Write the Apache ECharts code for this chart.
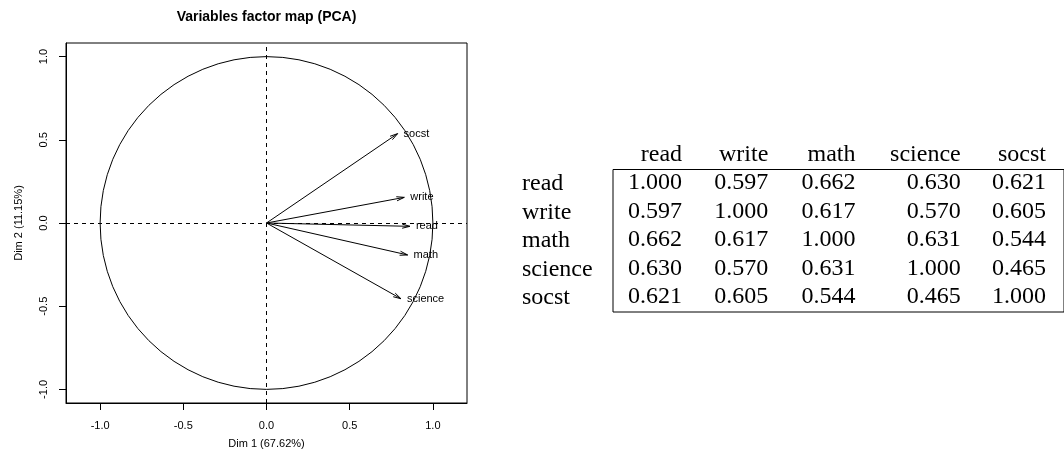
<!DOCTYPE html>
<html><head><meta charset="utf-8">
<script src="https://cdn.jsdelivr.net/npm/echarts@6/dist/echarts.min.js"></script>
<style>html,body{margin:0;padding:0;background:#fff}#c{width:1064px;height:462px}</style>
</head><body><div id="c"></div>
<script>
// ---- data ----
const variables = ['read', 'write', 'math', 'science', 'socst'];
const dim1 = [0.862, 0.828, 0.848, 0.808, 0.788];
const dim2 = [-0.020, 0.154, -0.192, -0.455, 0.537];
const xTicks = [-1.0, -0.5, 0.0, 0.5, 1.0];
const yTicks = [-1.0, -0.5, 0.0, 0.5, 1.0];
const circleCenter = [0, 0];
const circleRadius = 1;
const corRows = ['read', 'write', 'math', 'science', 'socst'];
const corCols = ['read', 'write', 'math', 'science', 'socst'];
const corRead = [1.000, 0.597, 0.662, 0.630, 0.621];
const corWrite = [0.597, 1.000, 0.617, 0.570, 0.605];
const corMath = [0.662, 0.617, 1.000, 0.631, 0.544];
const corScience = [0.630, 0.570, 0.631, 1.000, 0.465];
const corSocst = [0.621, 0.605, 0.544, 0.465, 1.000];

// ---- layout / style ----
const SANS = '"Liberation Sans", Arial, Helvetica, sans-serif';
const SERIF = '"Liberation Serif", "Times New Roman", serif';
const colShift = [24, 20, 17, 32, 27];
const rowShift = -1;

const corMatrix = [corRead, corWrite, corMath, corScience, corSocst];
const cellData = [];
corMatrix.forEach((row, r) => row.forEach((v, c) => cellData.push([c, r, v])));
const arrowData = variables.map((n, i) => [dim1[i], dim2[i], i]);

const chart = echarts.init(document.getElementById('c'));
chart.setOption({
  animation: false,
  backgroundColor: '#fff',
  title: {
    text: 'Variables factor map (PCA)', left: 266.5, top: 10, textAlign: 'center', padding: 0,
    textStyle: { fontFamily: SANS, fontSize: 14, fontWeight: 'bold', color: '#000' }
  },
  grid: [
    { left: 66, top: 43, width: 401, height: 360, show: true, borderColor: '#000', borderWidth: 1, containLabel: false },
    { left: 613, top: 169.5, right: -4, height: 142.5, show: true, borderColor: '#000', borderWidth: 1, containLabel: false }
  ],
  xAxis: [
    {
      type: 'value', gridIndex: 0, min: -1.205, max: 1.205,
      axisLine: { show: true, onZero: false, lineStyle: { color: '#000' } },
      axisTick: { show: true, customValues: xTicks, length: 7, lineStyle: { color: '#000' } },
      axisLabel: { customValues: xTicks, formatter: v => v.toFixed(1), fontFamily: SANS, fontSize: 11, color: '#000', margin: 17 },
      splitLine: { show: false },
      name: 'Dim 1 (67.62%)', nameLocation: 'middle', nameGap: 35,
      nameTextStyle: { fontFamily: SANS, fontSize: 11, color: '#000' }
    },
    {
      type: 'category', gridIndex: 1, data: corCols,
      axisLine: { show: false }, axisTick: { show: false }, axisLabel: { show: false }, splitLine: { show: false }
    }
  ],
  yAxis: [
    {
      type: 'value', gridIndex: 0, min: -1.0816, max: 1.0816,
      axisLine: { show: true, onZero: false, lineStyle: { color: '#000' } },
      axisTick: { show: true, customValues: yTicks, length: 7, lineStyle: { color: '#000' } },
      axisLabel: { customValues: yTicks, formatter: v => v.toFixed(1), rotate: 90, fontFamily: SANS, fontSize: 11, color: '#000', margin: 17 },
      splitLine: { show: false },
      name: 'Dim 2 (11.15%)', nameLocation: 'middle', nameGap: 42, nameRotate: 90,
      nameTextStyle: { fontFamily: SANS, fontSize: 11, color: '#000' }
    },
    {
      type: 'category', gridIndex: 1, data: corRows, inverse: true,
      axisLine: { show: false }, axisTick: { show: false }, splitLine: { show: false },
      axisLabel: { interval: 0, fontFamily: SERIF, fontSize: 24, color: '#000', align: 'left', margin: 91 }
    }
  ],
  series: [
    {
      type: 'custom', xAxisIndex: 0, yAxisIndex: 0, clip: false,
      data: [[circleCenter[0], circleCenter[1], circleRadius]],
      renderItem: (params, api) => {
        const c = api.coord([api.value(0), api.value(1)]);
        const e = api.coord([api.value(0) + api.value(2), api.value(1)]);
        return { type: 'circle', shape: { cx: c[0], cy: c[1], r: e[0] - c[0] }, style: { stroke: '#000', fill: null, lineWidth: 1 } };
      },
      markLine: {
        silent: true, symbol: 'none', label: { show: false },
        lineStyle: { type: [4, 4], color: '#000', width: 1 },
        data: [{ xAxis: 0 }, { yAxis: 0 }]
      }
    },
    {
      type: 'custom', xAxisIndex: 0, yAxisIndex: 0, clip: false,
      data: arrowData,
      renderItem: (params, api) => {
        const o = api.coord([0, 0]);
        const t = api.coord([api.value(0), api.value(1)]);
        const ang = Math.atan2(t[1] - o[1], t[0] - o[0]);
        const L = 8, a = 15 * Math.PI / 180;
        const p1 = [t[0] - L * Math.cos(ang - a), t[1] - L * Math.sin(ang - a)];
        const p2 = [t[0] - L * Math.cos(ang + a), t[1] - L * Math.sin(ang + a)];
        return {
          type: 'group', children: [
            { type: 'line', shape: { x1: o[0], y1: o[1], x2: t[0], y2: t[1] }, style: { stroke: '#000', lineWidth: 1 } },
            { type: 'polyline', shape: { points: [p1, t, p2] }, style: { stroke: '#000', fill: null, lineWidth: 1 } },
            { type: 'text', x: t[0] + 6, y: t[1], style: { text: variables[api.value(2)], fontFamily: SANS, fontSize: 11, fill: '#000', align: 'left', verticalAlign: 'middle' } }
          ]
        };
      }
    },
    {
      type: 'custom', xAxisIndex: 1, yAxisIndex: 1, clip: false,
      data: cellData,
      renderItem: (params, api) => {
        const c = api.value(0);
        const p = api.coord([c, api.value(1)]);
        return { type: 'text', x: p[0] + colShift[c], y: p[1] + rowShift,
          style: { text: api.value(2).toFixed(3), fontFamily: SERIF, fontSize: 24, fill: '#000', align: 'right', verticalAlign: 'middle' } };
      }
    },
    {
      type: 'custom', xAxisIndex: 1, yAxisIndex: 1, clip: false,
      data: corCols.map((n, i) => [i, 0]),
      renderItem: (params, api) => {
        const c = api.value(0);
        const p = api.coord([c, 0]);
        const h = api.size([0, 1])[1];
        return { type: 'text', x: p[0] + colShift[c], y: p[1] - h + rowShift,
          style: { text: corCols[c], fontFamily: SERIF, fontSize: 24, fill: '#000', align: 'right', verticalAlign: 'middle' } };
      }
    }
  ]
});
</script></body></html>
